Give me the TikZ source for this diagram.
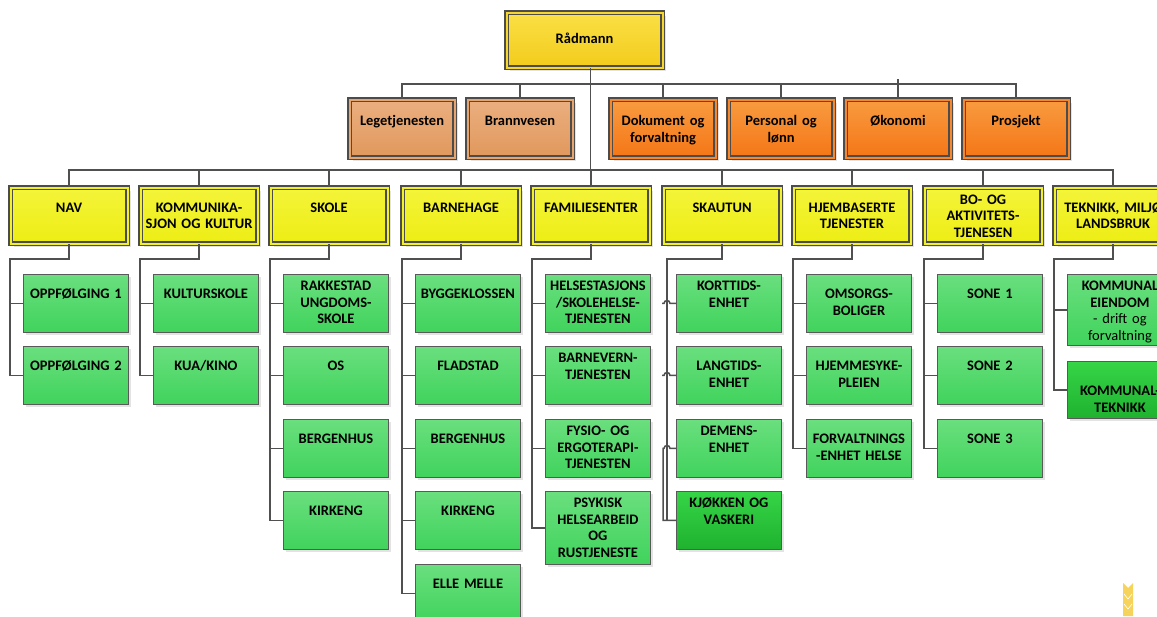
\documentclass[tikz,border=0pt]{standalone}
\usepackage{fontspec}
\setmainfont{Carlito}
\usetikzlibrary{shadows}

\definecolor{radtop}{HTML}{FADF45}
\definecolor{radbot}{HTML}{F3CC1C}
\definecolor{radmid}{HTML}{F6D52E}
\definecolor{unittop}{HTML}{F4F43A}
\definecolor{unitbot}{HTML}{EDED14}
\definecolor{unitmid}{HTML}{F1F126}
\definecolor{orgtop}{HTML}{F99B40}
\definecolor{orgbot}{HTML}{F47616}
\definecolor{orgmid}{HTML}{F7872A}
\definecolor{lbrtop}{HTML}{EBAF80}
\definecolor{lbrbot}{HTML}{E0985C}
\definecolor{lbrmid}{HTML}{E6A46E}
\definecolor{kidtop}{HTML}{6ADF7E}
\definecolor{kidbot}{HTML}{40D35C}
\definecolor{darktop}{HTML}{36D447}
\definecolor{darkbot}{HTML}{1FB22F}
\definecolor{linegray}{HTML}{505050}
\definecolor{wheat}{HTML}{F6D35A}

\tikzset{
box/.style={draw=black!65, line width=0.9pt, anchor=north west, inner sep=0pt,
  align=center, font=\fontsize{14.5}{16.5}\selectfont\bfseries,
  drop shadow={shadow xshift=3pt, shadow yshift=-3pt, fill=black!11, opacity=1}},
frame/.style={draw=black!70, line width=1.1pt, double=#1, double distance=2pt},
head/.style={box, frame=radmid, top color=radtop, bottom color=radbot,
  text width=156pt, text height=30.5pt, text depth=24.5pt},
staff/.style={box, frame=orgmid, top color=orgtop, bottom color=orgbot,
  text width=105pt, text height=26pt, text depth=32pt},
staffl/.style={staff, frame=lbrmid, top color=lbrtop, bottom color=lbrbot},
unit/.style={box, frame=unitmid, top color=unittop, bottom color=unitbot,
  text width=117pt, text height=24.5pt, text depth=31.5pt},
kid/.style={box, top color=kidtop, bottom color=kidbot,
  text width=105pt, text height=24.5pt, text depth=33.5pt},
kiddark/.style={kid, top color=darktop, bottom color=darkbot},
txtup/.style={text height=16.5pt, text depth=41.5pt},
link/.style={draw=linegray, line width=1.5pt}
}

\begin{document}
\begin{tikzpicture}[x=1pt, y=-1pt]
\useasboundingbox (0,0) rectangle (1157,616);

% top
\node [head] (rad) at (506,12) {Rådmann};

% staff row
\node [staffl] (lege) at (349,99) {Legetjenesten};
\node [staffl] (bran) at (467,99) {Brannvesen};
\node [staff] (dok) at (610,99) {Dokument og\\forvaltning};
\node [staff] (pers) at (728,99) {Personal og\\lønn};
\node [staff] (oko) at (845,99) {Økonomi};
\node [staff] (pros) at (963,99) {Prosjekt};

% units
\node [unit] (nav) at (10,187) {NAV};
\node [unit] (komm) at (140,187) {KOMMUNIKA-\\SJON OG KULTUR};
\node [unit] (skole) at (270,187) {SKOLE};
\node [unit] (barn) at (402,187) {BARNEHAGE};
\node [unit] (fam) at (532,187) {FAMILIESENTER};
\node [unit] (skaut) at (663,187) {SKAUTUN};
\node [unit] (hjem) at (793,187) {HJEMBASERTE\\TJENESTER};
\node [unit, text height=16.5pt, text depth=39.5pt] (bo) at (924,187) {BO- OG\\AKTIVITETS-\\TJENESEN};
\node [unit] (tek) at (1054,187) {TEKNIKK, MILJØ\\LANDSBRUK};

% NAV
\node [kid] (nav1) at (23,274) {OPPFØLGING 1};
\node [kid] (nav2) at (23,346) {OPPFØLGING 2};

% kommunikasjon og kultur
\node [kid] (komm1) at (153,274) {KULTURSKOLE};
\node [kid] (komm2) at (153,346) {KUA/KINO};

% skole
\node [kid, txtup] (sk1) at (283,274) {RAKKESTAD\\UNGDOMS-\\SKOLE};
\node [kid] (sk2) at (283,346) {OS};
\node [kid] (sk3) at (283,419) {BERGENHUS};
\node [kid] (sk4) at (283,491) {KIRKENG};

% barnehage
\node [kid] (bh1) at (415,274) {BYGGEKLOSSEN};
\node [kid] (bh2) at (415,346) {FLADSTAD};
\node [kid] (bh3) at (415,419) {BERGENHUS};
\node [kid] (bh4) at (415,491) {KIRKENG};
\node [kid] (bh5) at (415,564) {ELLE MELLE};

% familiesenter
\node [kid, txtup] (fa1) at (545,274) {HELSESTASJONS\\/SKOLEHELSE-\\TJENESTEN};
\node [kid, txtup] (fa2) at (545,346) {BARNEVERN-\\TJENESTEN};
\node [kid, txtup] (fa3) at (545,419) {FYSIO- OG\\ERGOTERAPI-\\TJENESTEN};
\node [kid, text height=16.5pt, text depth=56.5pt] (fa4) at (545,491) {PSYKISK\\HELSEARBEID\\OG\\RUSTJENESTE};

% skautun
\node [kid, txtup] (kor) at (676,274) {KORTTIDS-\\ENHET};
\node [kid] (lang) at (676,346) {LANGTIDS-\\ENHET};
\node [kid, txtup] (dem) at (676,419) {DEMENS-\\ENHET};
\node [kiddark, txtup] (kjo) at (676,491) {KJØKKEN OG\\VASKERI};

% hjembaserte tjenester
\node [kid] (hj1) at (806,274) {OMSORGS-\\BOLIGER};
\node [kid] (hj2) at (806,346) {HJEMMESYKE-\\PLEIEN};
\node [kid] (hj3) at (806,419) {FORVALTNINGS\\-ENHET HELSE};

% bo- og aktivitetstjenesten
\node [kid] (bo1) at (937,274) {SONE 1};
\node [kid] (bo2) at (937,346) {SONE 2};
\node [kid] (bo3) at (937,419) {SONE 3};

% teknikk
\node [kid, text height=16.5pt, text depth=54.5pt] (te1) at (1067,274) {KOMMUNAL\\EIENDOM\\\mdseries - drift og\\forvaltning};
\node [kiddark, text height=34.5pt, text depth=22.5pt] (te2) at (1067,361) {KOMMUNAL-\\TEKNIKK};

% buses
\coordinate (sbus) at (0,84);
\coordinate (ubus) at (0,170);

\draw [link] ([xshift=6pt]rad.south) -- ([xshift=6pt]rad.south |- ubus);
\draw [link] (lege.north) -- (lege.north |- sbus) -- (pros.north |- sbus) -- (pros.north);
\draw [link] (bran.north) -- (bran.north |- sbus);
\draw [link] (dok.north) -- (dok.north |- sbus);
\draw [link] (pers.north) -- (pers.north |- sbus);
\draw [link] (oko.north) -- (oko.north |- sbus) -- ++(0,-5);

\draw [link] (nav.north) -- (nav.north |- ubus) -- (tek.north |- ubus) -- (tek.north);
\draw [link] (komm.north) -- (komm.north |- ubus);
\draw [link] (skole.north) -- (skole.north |- ubus);
\draw [link] (barn.north) -- (barn.north |- ubus);
\draw [link] (fam.north) -- (fam.north |- ubus);
\draw [link] (skaut.north) -- (skaut.north |- ubus);
\draw [link] (hjem.north) -- (hjem.north |- ubus);
\draw [link] (bo.north) -- (bo.north |- ubus);

% columns
\draw [link] (nav.south) -- ++(0,15) -| (nav.south west |- nav2.west) -- (nav2.west);
\draw [link] (nav.south west |- nav1.west) -- (nav1.west);

\draw [link] (komm.south) -- ++(0,15) -| (komm.south west |- komm2.west) -- (komm2.west);
\draw [link] (komm.south west |- komm1.west) -- (komm1.west);

\draw [link] (skole.south) -- ++(0,15) -| (skole.south west |- sk4.west) -- (sk4.west);
\draw [link] (skole.south west |- sk1.west) -- (sk1.west);
\draw [link] (skole.south west |- sk2.west) -- (sk2.west);
\draw [link] (skole.south west |- sk3.west) -- (sk3.west);

\draw [link] (barn.south) -- ++(0,15) -| (barn.south west |- bh5.west) -- (bh5.west);
\draw [link] (barn.south west |- bh1.west) -- (bh1.west);
\draw [link] (barn.south west |- bh2.west) -- (bh2.west);
\draw [link] (barn.south west |- bh3.west) -- (bh3.west);
\draw [link] (barn.south west |- bh4.west) -- (bh4.west);

\draw [link] (fam.south) -- ++(0,15) -| (fam.south west |- fa4.west) -- (fa4.west);
\draw [link] (fam.south west |- fa1.west) -- (fa1.west);
\draw [link] (fam.south west |- fa2.west) -- (fa2.west);
\draw [link] (fam.south west |- fa3.west) -- (fa3.west);

\draw [link] (skaut.south) -- ++(0,15) -| ([xshift=4pt]skaut.south west |- kjo.west) -- (kjo.west);
\draw [link] ([xshift=-14pt]kor.west) -- ++(2,0) arc [start angle=180, end angle=0, radius=3pt] -- (kor.west);
\draw [link] ([xshift=-14pt]lang.west) -- ++(2,0) arc [start angle=180, end angle=0, radius=3pt] -- (lang.west);
\draw [link] (kjo.west) -| ([xshift=-13pt]dem.west) -- ++(1,0) arc [start angle=180, end angle=0, radius=3pt] -- (dem.west);

\draw [link] (hjem.south) -- ++(0,15) -| (hjem.south west |- hj3.west) -- (hj3.west);
\draw [link] (hjem.south west |- hj1.west) -- (hj1.west);
\draw [link] (hjem.south west |- hj2.west) -- (hj2.west);

\draw [link] (bo.south) -- ++(0,15) -| (bo.south west |- bo3.west) -- (bo3.west);
\draw [link] (bo.south west |- bo1.west) -- (bo1.west);
\draw [link] (bo.south west |- bo2.west) -- (bo2.west);

\draw [link] (tek.south) -- ++(0,15) -| (tek.south west |- te2.west) -- (te2.west);
\draw [link] (tek.south west |- te1.west) -- (te1.west);

% corner mark
\fill [wheat] (1123,583) -- (1128,588) -- (1133,583) -- (1133,616) -- (1123,616) -- cycle;
\draw [white, line width=0.6pt] (1124,594) -- (1128,599) -- (1132,594);
\draw [white, line width=0.6pt] (1124,604) -- (1128,609) -- (1132,604);
\end{tikzpicture}
\end{document}
